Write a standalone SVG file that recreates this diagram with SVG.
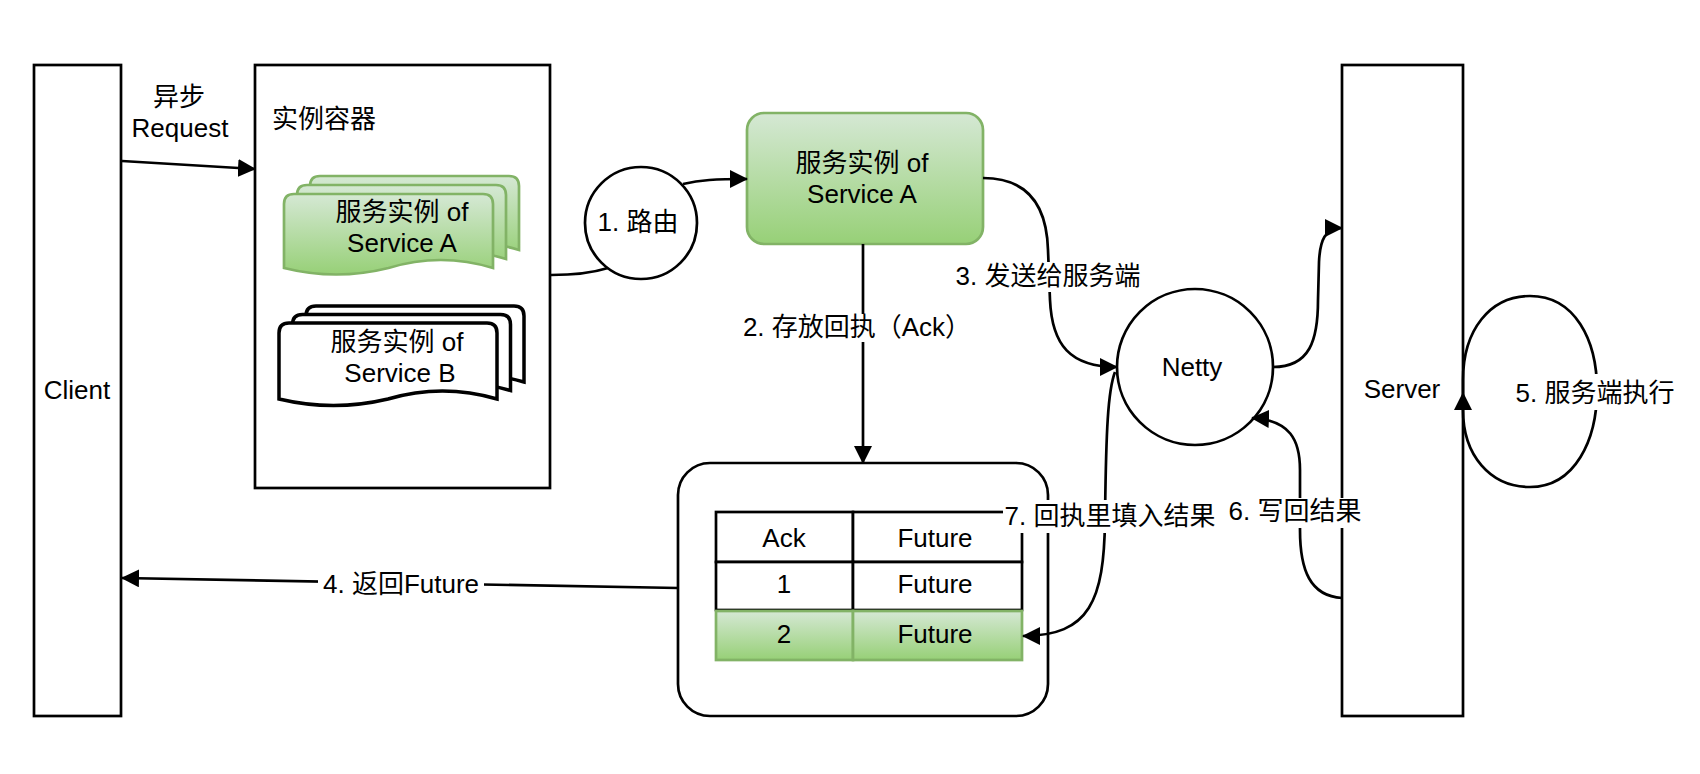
<svg xmlns="http://www.w3.org/2000/svg" width="1700" height="774" viewBox="0 0 1700 774">
<defs>
<style>
.t{font-family:'Liberation Sans','Noto Sans CJK SC',sans-serif;font-size:26px;fill:#000}
.c{text-anchor:middle}
.box{fill:#fff;stroke:#000;stroke-width:2.7}
.grn{fill:url(#g);stroke:#82b366;stroke-width:2.7}
.docb{fill:#fff;stroke:#000;stroke-width:3.5}
.e{fill:none;stroke:#000;stroke-width:2.7}
.a{marker-end:url(#ah)}
.lb{fill:#fff}
</style>
<linearGradient id="g" x1="0" y1="0" x2="0" y2="1">
<stop offset="0" stop-color="#d5e8d4"/>
<stop offset="1" stop-color="#97d077"/>
</linearGradient>
<marker id="ah" viewBox="0 0 18 18" refX="17" refY="9" markerWidth="18" markerHeight="18" markerUnits="userSpaceOnUse" orient="auto">
<path d="M0,0 L18,9 L0,18 Z" fill="#000"/>
</marker>
<path id="docA" d="M284,268 L284,204 Q284,194 294,194 L483,194 Q493,194 493,204 L493,268 Q440.75,252 388.5,268 Q336.25,281 284,268 Z"/>
<path id="docB" d="M279,399 L279,333 Q279,323 289,323 L487,323 Q497,323 497,333 L497,399 Q442.5,383 388,399 Q333.5,412 279,399 Z"/>
</defs>
<rect width="1700" height="774" fill="#fff"/>

<g id="client">
<rect class="box" x="34" y="65" width="87" height="651"/>
<text class="t c" x="77" y="399">Client</text>
</g>

<g id="container">
<rect class="box" x="255" y="65" width="295" height="423"/>
<text class="t" x="272" y="128">实例容器</text>
</g>

<g id="docServiceA">
<use href="#docA" class="grn" transform="translate(26,-18)"/>
<use href="#docA" class="grn" transform="translate(13,-9)"/>
<use href="#docA" class="grn"/>
<text class="t c" x="402" y="221">服务实例 of</text>
<text class="t c" x="402" y="252">Service A</text>
</g>

<g id="docServiceB">
<use href="#docB" class="docb" transform="translate(27,-17)"/>
<use href="#docB" class="docb" transform="translate(13.5,-8.5)"/>
<use href="#docB" class="docb"/>
<text class="t c" x="397" y="351">服务实例 of</text>
<text class="t c" x="400" y="382">Service B</text>
</g>

<g id="route">
<circle class="box" cx="641" cy="223" r="56"/>
<text class="t c" x="638" y="231">1. 路由</text>
</g>

<g id="serviceA">
<rect class="grn" x="747" y="113" width="236" height="131" rx="17"/>
<text class="t c" x="862" y="172">服务实例 of</text>
<text class="t c" x="862" y="203">Service A</text>
</g>

<g id="ackTable">
<rect class="box" x="678" y="463" width="370" height="253" rx="32"/>
<rect class="box" x="716" y="512" width="137" height="50"/>
<rect class="box" x="853" y="512" width="169" height="50"/>
<rect class="box" x="716" y="562" width="137" height="48"/>
<rect class="box" x="853" y="562" width="169" height="48"/>
<rect class="grn" x="716" y="611" width="137" height="49"/>
<rect class="grn" x="853" y="611" width="169" height="49"/>
<text class="t c" x="784" y="547">Ack</text>
<text class="t c" x="935" y="547">Future</text>
<text class="t c" x="784" y="593">1</text>
<text class="t c" x="935" y="593">Future</text>
<text class="t c" x="784" y="643">2</text>
<text class="t c" x="935" y="643">Future</text>
</g>

<g id="netty">
<circle class="box" cx="1195" cy="367" r="78"/>
<text class="t c" x="1192" y="376">Netty</text>
</g>

<g id="server">
<rect class="box" x="1342" y="65" width="121" height="651"/>
<text class="t c" x="1402" y="398">Server</text>
</g>

<g id="connectors">
<path class="e a" d="M122,161 L255,169"/>
<text class="t c" x="179" y="106">异步</text>
<text class="t c" x="180" y="137">Request</text>

<path class="e a" d="M551,275 C575,275 592,273 608,268 M683,184 C700,180 715,179 747,179"/>

<path class="e a" d="M863,244 L863,463"/>
<rect class="lb" x="746" y="314" width="222" height="28"/>
<text class="t c" x="857" y="336">2. 存放回执（Ack）</text>

<path class="e a" d="M983,178 C1035,178 1047,215 1048,250 L1050,300 C1052,345 1070,367 1117,367"/>
<rect class="lb" x="954" y="262" width="190" height="30"/>
<text class="t c" x="1048" y="285">3. 发送给服务端</text>

<path class="e a" d="M678,588 L122,578"/>
<rect class="lb" x="318" y="569" width="166" height="30"/>
<text class="t c" x="401" y="593">4.  返回Future</text>

<path class="e a" d="M1273,367 C1310,367 1318,340 1318,300 L1319,262 C1320,240 1325,228 1342,228"/>

<path class="e a" d="M1463,393 L1463,380 C1463,330 1490,296 1530,296 C1575,296 1597,340 1597,390 C1597,440 1575,487 1530,487 C1490,487 1463,455 1463,410 L1463,393"/>
<rect class="lb" x="1514" y="374" width="162" height="36"/>
<text class="t c" x="1595" y="402">5. 服务端执行</text>

<path class="e a" d="M1342,598 C1310,596 1300,570 1300,530 L1300,470 C1300,440 1290,420 1252,418"/>
<rect class="lb" x="1227" y="498" width="137" height="30"/>
<text class="t c" x="1295" y="520">6. 写回结果</text>

<path class="e a" d="M1115,372 C1108,390 1106,430 1105,520 C1104,600 1090,636 1023,636"/>
<rect class="lb" x="1003" y="500" width="216" height="33"/>
<text class="t c" x="1110" y="525">7. 回执里填入结果</text>
</g>
</svg>
